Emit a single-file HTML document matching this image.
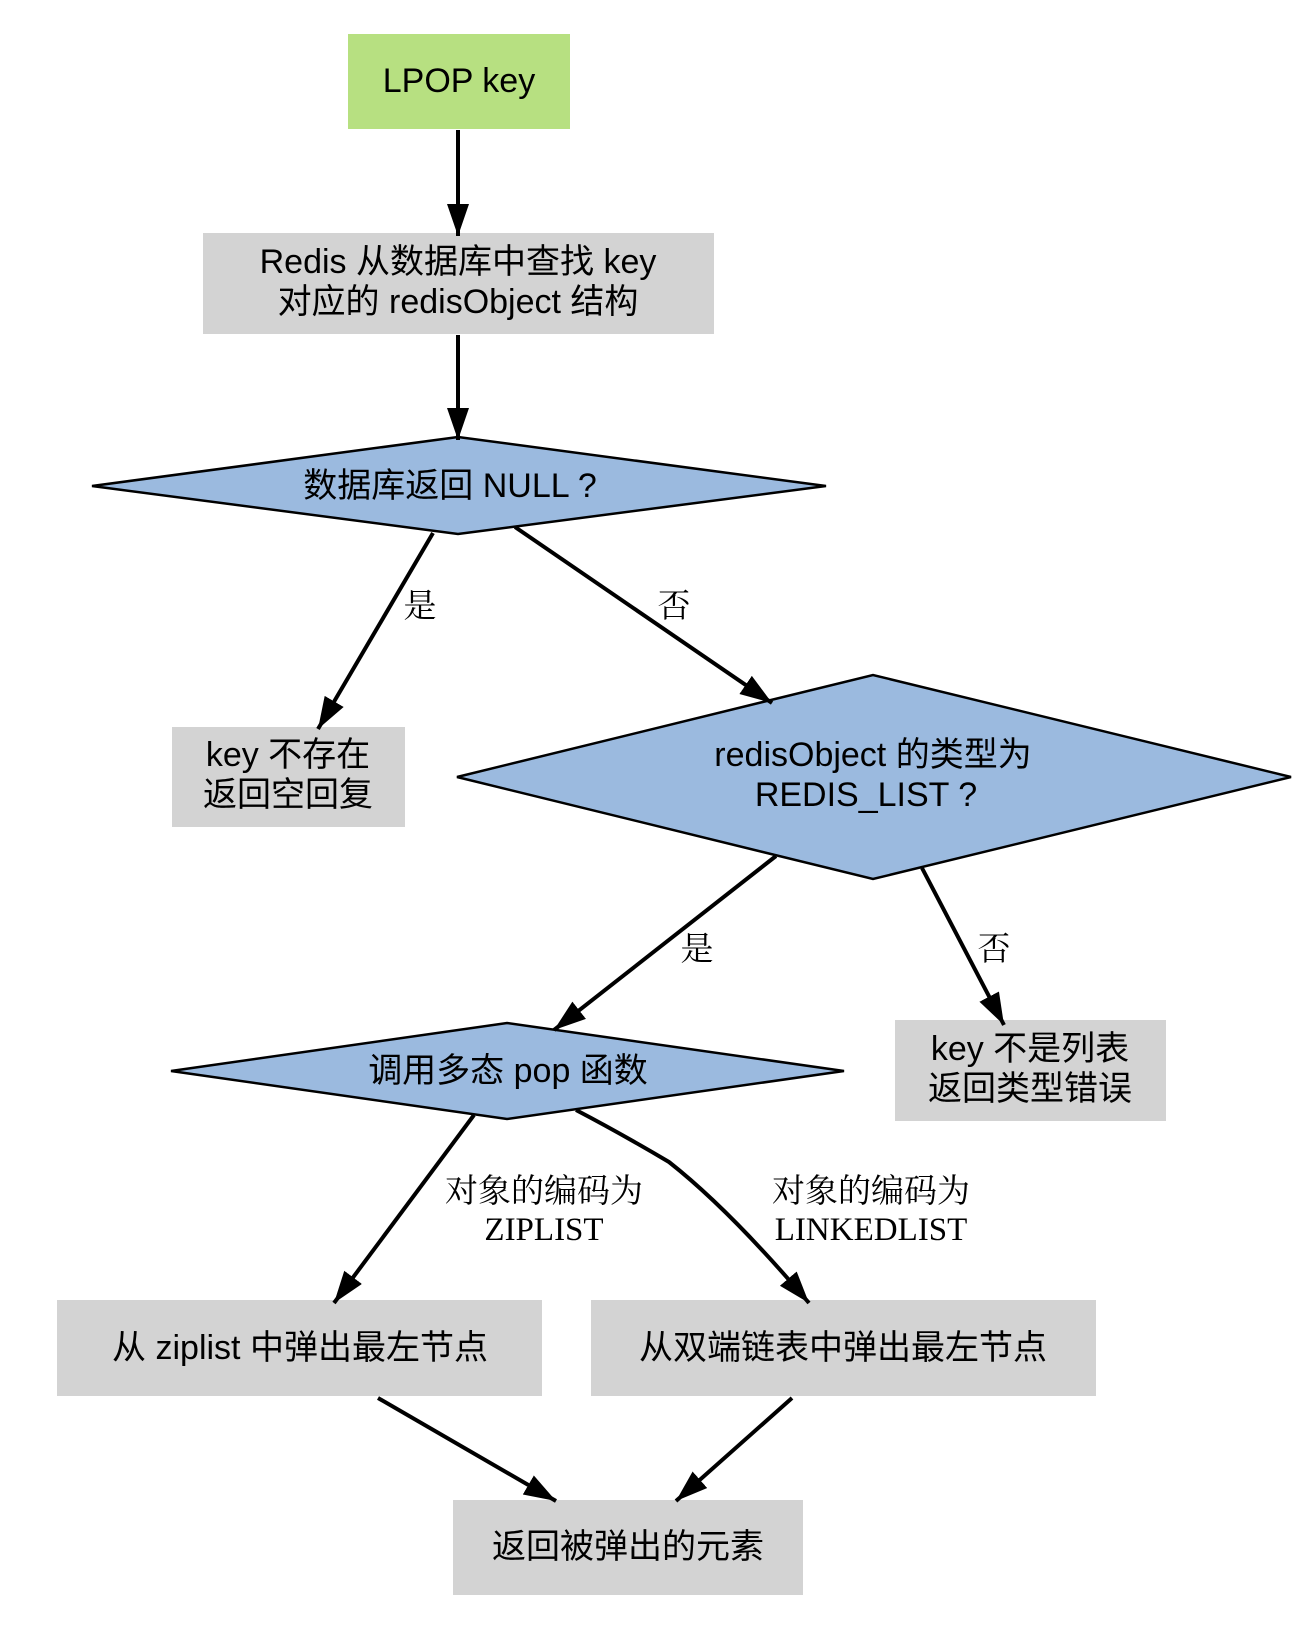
<!DOCTYPE html>
<html><head><meta charset="utf-8"><style>
html,body{margin:0;padding:0;background:#fff;}
svg{display:block;}
.n{font-family:"Liberation Sans","Noto Sans CJK SC",sans-serif;font-size:34px;fill:#000;text-anchor:middle;}
.l{font-family:"Liberation Serif","Noto Serif CJK SC",serif;font-size:33px;fill:#000;text-anchor:middle;}
.e{stroke:#000;stroke-width:4;fill:none;}
</style></head><body>
<svg width="1316" height="1646" viewBox="0 0 1316 1646" xmlns="http://www.w3.org/2000/svg">
<defs>
<marker id="a" markerUnits="userSpaceOnUse" markerWidth="34" markerHeight="24" refX="32" refY="11" orient="auto">
<path d="M0,0 L32,11 L0,22 Z" fill="#000"/>
</marker>
</defs>
<!-- nodes -->
<rect x="348" y="34" width="222" height="95" fill="#b7e081"/>
<text class="n" x="459" y="92">LPOP key</text>

<rect x="203" y="233" width="511" height="101" fill="#d3d3d3"/>
<text class="n" x="458" y="273">Redis 从数据库中查找 key</text>
<text class="n" x="458" y="313">对应的 redisObject 结构</text>

<polygon points="92,486 458,437 826,486 458,534" fill="#9bbadf" stroke="#000" stroke-width="2.5"/>
<text class="n" x="450" y="497">数据库返回 NULL ?</text>

<rect x="172" y="727" width="233" height="100" fill="#d3d3d3"/>
<text class="n" x="288" y="766">key 不存在</text>
<text class="n" x="288" y="806">返回空回复</text>

<polygon points="457,777 873,675 1291,777 873,879" fill="#9bbadf" stroke="#000" stroke-width="2.5"/>
<text class="n" x="873" y="766">redisObject 的类型为</text>
<text class="n" x="866" y="806">REDIS_LIST ?</text>

<polygon points="171,1071 507,1023 844,1071 507,1119" fill="#9bbadf" stroke="#000" stroke-width="2.5"/>
<text class="n" x="508" y="1082">调用多态 pop 函数</text>

<rect x="895" y="1020" width="271" height="101" fill="#d3d3d3"/>
<text class="n" x="1030" y="1060">key 不是列表</text>
<text class="n" x="1030" y="1100">返回类型错误</text>

<rect x="57" y="1300" width="485" height="96" fill="#d3d3d3"/>
<text class="n" x="300" y="1359">从 ziplist 中弹出最左节点</text>

<rect x="591" y="1300" width="505" height="96" fill="#d3d3d3"/>
<text class="n" x="843" y="1359">从双端链表中弹出最左节点</text>

<rect x="453" y="1500" width="350" height="95" fill="#d3d3d3"/>
<text class="n" x="628" y="1558">返回被弹出的元素</text>

<!-- edges -->
<line class="e" x1="458" y1="130" x2="458" y2="236" marker-end="url(#a)"/>
<line class="e" x1="458" y1="335" x2="458" y2="440" marker-end="url(#a)"/>
<line class="e" x1="433" y1="533" x2="318" y2="729" marker-end="url(#a)"/>
<text class="l" x="420" y="617">是</text>
<line class="e" x1="515" y1="527" x2="772" y2="703" marker-end="url(#a)"/>
<text class="l" x="674" y="617">否</text>
<line class="e" x1="776" y1="856" x2="554" y2="1030" marker-end="url(#a)"/>
<text class="l" x="697" y="960">是</text>
<line class="e" x1="922" y1="868" x2="1004" y2="1025" marker-end="url(#a)"/>
<text class="l" x="994" y="960">否</text>
<line class="e" x1="474" y1="1115" x2="334" y2="1303" marker-end="url(#a)"/>
<text class="l" x="544" y="1202">对象的编码为</text>
<text class="l" x="544" y="1240">ZIPLIST</text>
<path class="e" d="M576,1110 Q620,1133 669,1162 Q730,1210 809,1303" marker-end="url(#a)"/>
<text class="l" x="871" y="1202">对象的编码为</text>
<text class="l" x="871" y="1240">LINKEDLIST</text>
<line class="e" x1="378" y1="1398" x2="556" y2="1501" marker-end="url(#a)"/>
<line class="e" x1="792" y1="1398" x2="676" y2="1501" marker-end="url(#a)"/>
</svg>
</body></html>
